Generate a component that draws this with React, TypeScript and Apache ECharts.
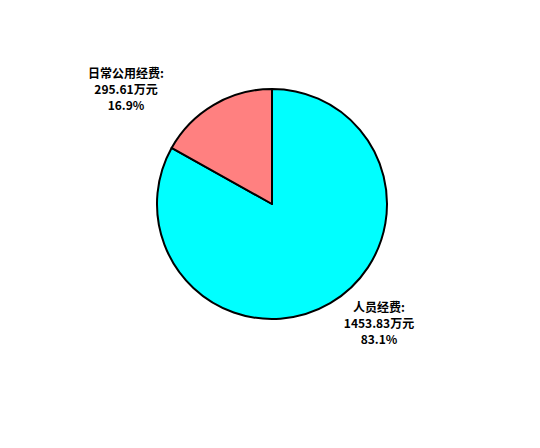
import React, { useEffect, useRef } from 'react';
import * as echarts from 'echarts';

const categories = ['人员经费', '日常公用经费'];
const amounts = [1453.83, 295.61];
const percents = ['83.1%', '16.9%'];
const colors = ['#00FFFF', '#FF8080'];

const App: React.FC = () => {
  const chartRef = useRef<HTMLDivElement>(null);

  useEffect(() => {
    document.body.style.margin = '0';
    if (!chartRef.current) return;
    const chart = echarts.init(chartRef.current, undefined, { renderer: 'svg' });

    // label anchor points, as in the original
    const labelPos = [
      { x: 379, y: 322 },
      { x: 126, y: 88 },
    ];

    chart.setOption({
      animation: false,
      backgroundColor: '#ffffff',
      series: [
        {
          type: 'pie',
          center: [272, 204],
          radius: 115,
          startAngle: 90,
          clockwise: true,
          data: categories.map((name, i) => ({
            name,
            value: amounts[i],
            itemStyle: { color: colors[i] },
          })),
          itemStyle: { borderColor: '#000', borderWidth: 2 },
          label: {
            show: true,
            position: 'outside',
            formatter: (p: any) =>
              `${p.name}:\n${amounts[p.dataIndex]}万元\n${percents[p.dataIndex]}`,
            color: '#000',
            fontFamily: '"Noto Sans CJK SC", sans-serif',
            fontWeight: 'bold',
            fontSize: 12,
            lineHeight: 16,
            align: 'center',
          },
          labelLine: { show: false },
          labelLayout: (params: any) => ({
            x: labelPos[params.dataIndex].x,
            y: labelPos[params.dataIndex].y,
            align: 'center',
            verticalAlign: 'middle',
          }),
          emphasis: { disabled: true },
        },
      ],
    });

    return () => {
      chart.dispose();
    };
  }, []);

  return <div ref={chartRef} style={{ width: '540px', height: '448px' }} />;
};

export default App;
